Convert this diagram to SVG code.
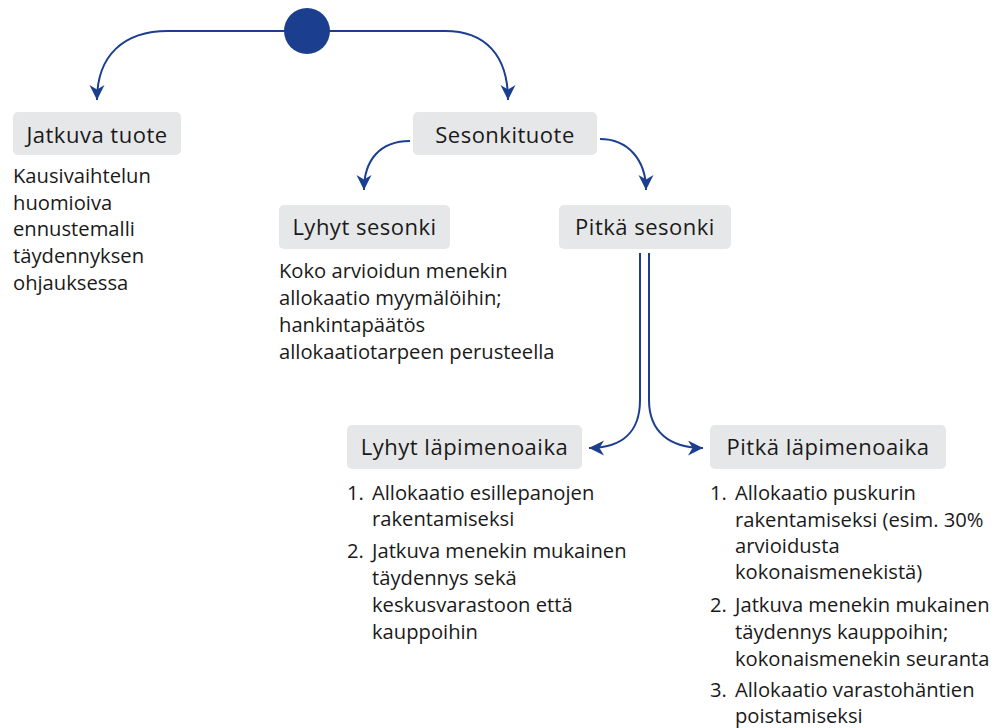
<svg xmlns="http://www.w3.org/2000/svg" width="997" height="728" viewBox="0 0 997 728">
<style>
.box{fill:#e6e7e8;}
.lbl{font-family:"Open Sans","Noto Sans",sans-serif;font-size:22px;letter-spacing:0.5px;fill:#1a1a1a;text-anchor:middle;}
.txt{font-family:"Open Sans","Noto Sans",sans-serif;font-size:20.2px;fill:#1a1a1a;}
.con{fill:none;stroke:#1b3f8e;stroke-width:2;}
</style>
<defs>
<marker id="ah" markerUnits="userSpaceOnUse" markerWidth="16" markerHeight="16" refX="15" refY="7.5" orient="auto">
<path d="M0,0 L15,7.5 L0,15 L4.5,7.5 z" fill="#1b3f8e"/>
</marker>
</defs>
<rect width="997" height="728" fill="#ffffff"/>
<g id="connectors">
<path class="con" d="M285 31 H168 C124 31 97 55 97 100" marker-end="url(#ah)"/>
<path class="con" d="M329 31 H445 C485 31 508 55 508 100" marker-end="url(#ah)"/>
<path class="con" d="M410 141 C380 141 364 160 364 190" marker-end="url(#ah)"/>
<path class="con" d="M600 139 C628 139 646 160 646 190" marker-end="url(#ah)"/>
<path class="con" d="M640 253 V400 C640 432 622 448 589 448" marker-end="url(#ah)"/>
<path class="con" d="M649 253 V400 C649 432 670 448 703 448" marker-end="url(#ah)"/>
</g>
<g id="start">
<circle cx="307" cy="31" r="23" fill="#1b3f8e"/>
</g>
<g id="jatkuva">
<rect class="box" x="13" y="112" width="168" height="43" rx="5"/>
<text class="lbl" x="97" y="143">Jatkuva tuote</text>
<text class="txt" x="13" y="183">Kausivaihtelun</text>
<text class="txt" x="13" y="210">huomioiva</text>
<text class="txt" x="13" y="236">ennustemalli</text>
<text class="txt" x="13" y="263">täydennyksen</text>
<text class="txt" x="13" y="290">ohjauksessa</text>
</g>
<g id="sesonkituote">
<rect class="box" x="413" y="112" width="184" height="43" rx="5"/>
<text class="lbl" x="505" y="143">Sesonkituote</text>
</g>
<g id="lyhytsesonki">
<rect class="box" x="279" y="205" width="171" height="44" rx="5"/>
<text class="lbl" x="364.5" y="235">Lyhyt sesonki</text>
<text class="txt" x="279" y="278">Koko arvioidun menekin</text>
<text class="txt" x="279" y="305">allokaatio myymälöihin;</text>
<text class="txt" x="279" y="332">hankintapäätös</text>
<text class="txt" x="279" y="359">allokaatiotarpeen perusteella</text>
</g>
<g id="pitkasesonki">
<rect class="box" x="559" y="205" width="172" height="44" rx="5"/>
<text class="lbl" x="645" y="235">Pitkä sesonki</text>
</g>
<g id="lyhytlapi">
<rect class="box" x="347" y="425" width="235" height="44" rx="5"/>
<text class="lbl" x="464.5" y="455">Lyhyt läpimenoaika</text>
<text class="txt" x="347" y="500">1.</text>
<text class="txt" x="372" y="500">Allokaatio esillepanojen</text>
<text class="txt" x="372" y="526">rakentamiseksi</text>
<text class="txt" x="347" y="558">2.</text>
<text class="txt" x="372" y="558">Jatkuva menekin mukainen</text>
<text class="txt" x="372" y="585">täydennys sekä</text>
<text class="txt" x="372" y="612">keskusvarastoon että</text>
<text class="txt" x="372" y="639">kauppoihin</text>
</g>
<g id="pitkalapi">
<rect class="box" x="710" y="425" width="236" height="44" rx="5"/>
<text class="lbl" x="828" y="455">Pitkä läpimenoaika</text>
<text class="txt" x="710" y="500">1.</text>
<text class="txt" x="735" y="500">Allokaatio puskurin</text>
<text class="txt" x="735" y="527">rakentamiseksi (esim. 30%</text>
<text class="txt" x="735" y="553">arvioidusta</text>
<text class="txt" x="735" y="579">kokonaismenekistä)</text>
<text class="txt" x="710" y="612">2.</text>
<text class="txt" x="735" y="612">Jatkuva menekin mukainen</text>
<text class="txt" x="735" y="639">täydennys kauppoihin;</text>
<text class="txt" x="735" y="666">kokonaismenekin seuranta</text>
<text class="txt" x="710" y="697">3.</text>
<text class="txt" x="735" y="697">Allokaatio varastohäntien</text>
<text class="txt" x="735" y="723">poistamiseksi</text>
</g>
</svg>
